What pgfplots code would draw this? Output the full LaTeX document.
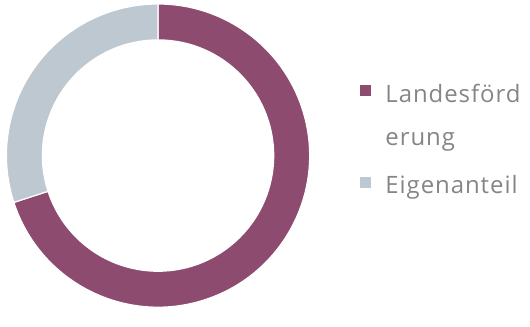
\documentclass[border=0pt]{standalone}
\usepackage{pgfplots}
\usepackage{pgfplotstable}
\pgfplotsset{compat=1.18}
\usepackage{fontspec}
\setmainfont{Open Sans}[LetterSpace=4]
\definecolor{landes}{HTML}{8D4B70}
\definecolor{eigen}{HTML}{BEC8D0}
\definecolor{txtgray}{HTML}{858585}
\pgfplotstableread{
label share
Landesfoerderung 70
Eigenanteil 30
}\data
\begin{document}
\begin{tikzpicture}
\pgfplotstablegetelem{0}{share}\of\data \let\va\pgfplotsretval
\pgfplotstablegetelem{1}{share}\of\data \let\vb\pgfplotsretval
\pgfmathsetmacro\cx{157}
\pgfmathsetmacro\cy{311-156}
\pgfmathsetmacro\ro{152}
\pgfmathsetmacro\ri{116}
\pgfmathsetmacro\aE{90+\vb/(\va+\vb)*360}
\pgfmathsetmacro\aL{\aE+\va/(\va+\vb)*360}
% start points
\pgfmathsetmacro\xEo{\cx+\ro*cos(90)}\pgfmathsetmacro\yEo{\cy+\ro*sin(90)}
\pgfmathsetmacro\xEi{\cx+\ri*cos(\aE)}\pgfmathsetmacro\yEi{\cy+\ri*sin(\aE)}
\pgfmathsetmacro\xLo{\cx+\ro*cos(\aE)}\pgfmathsetmacro\yLo{\cy+\ro*sin(\aE)}
\pgfmathsetmacro\xLi{\cx+\ri*cos(\aL)}\pgfmathsetmacro\yLi{\cy+\ri*sin(\aL)}
\begin{axis}[
  scale only axis, width=530pt, height=311pt,
  xmin=0, xmax=530, ymin=0, ymax=311,
  hide axis, clip=false,
  legend style={at={(axis cs:360,{311-72.3})}, anchor=north west,
    draw=none, fill=none, inner sep=0pt, outer sep=0pt,
    row sep=6pt, column sep=14pt,
    nodes={inner sep=0pt, outer sep=0pt, text depth=},
    cells={anchor=base west},
    font={\fontsize{24}{43}\selectfont}, text=txtgray},
  legend image code/.code={\fill[#1,draw=none] (0pt,5.7pt) rectangle (11pt,16.7pt);},
]
\path (axis cs:0,0) rectangle (axis cs:530,311);
\fill[landes, draw=white, line width=1.2pt]
  (axis cs:\xLo,\yLo) arc[start angle=\aE, end angle=\aL, radius=\ro pt]
  -- (axis cs:\xLi,\yLi) arc[start angle=\aL, end angle=\aE, radius=\ri pt] -- cycle;
\fill[eigen, draw=white, line width=1.2pt]
  (axis cs:\xEo,\yEo) arc[start angle=90, end angle=\aE, radius=\ro pt]
  -- (axis cs:\xEi,\yEi) arc[start angle=\aE, end angle=90, radius=\ri pt] -- cycle;
\addlegendimage{fill=landes,draw=none}
\addlegendentry{\begin{tabular}[t]{@{}l@{}}Landesförd\\erung\end{tabular}}
\addlegendimage{fill=eigen,draw=none}
\addlegendentry{\begin{tabular}[t]{@{}l@{}}Eigenanteil\end{tabular}}
\end{axis}
\end{tikzpicture}
\end{document}
